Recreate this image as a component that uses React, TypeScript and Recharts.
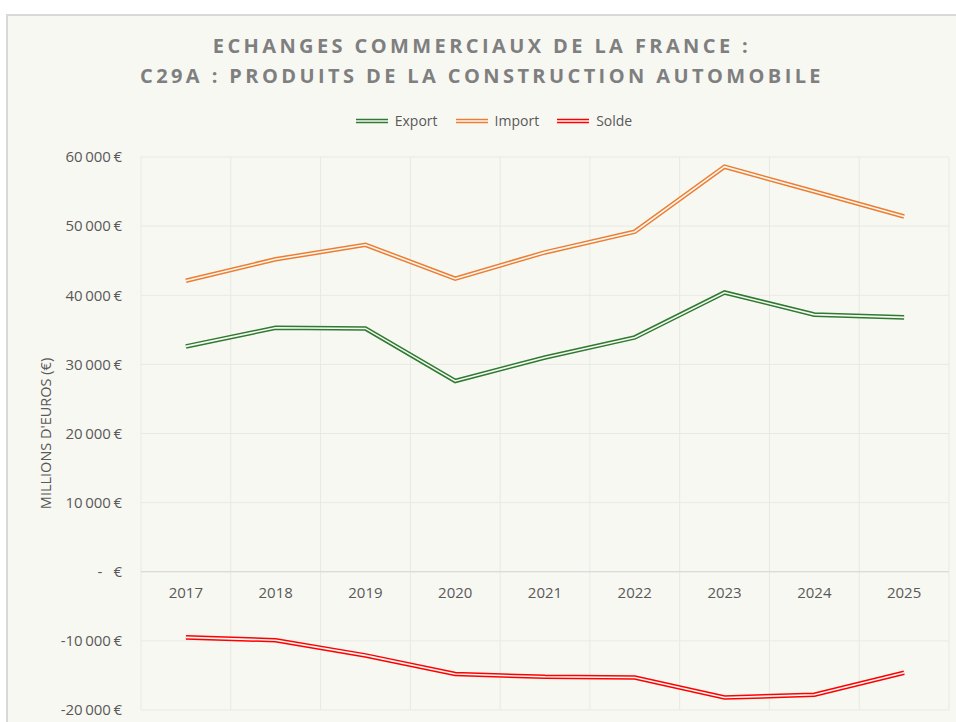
import { LineChart, Line, XAxis, YAxis, CartesianGrid, ReferenceLine, ReferenceDot, Legend } from 'recharts';

const years = ['2017', '2018', '2019', '2020', '2021', '2022', '2023', '2024', '2025'];
const exportValues = [32600, 35300, 35200, 27600, 31000, 33900, 40400, 37200, 36800];
const importValues = [42100, 45200, 47300, 42400, 46200, 49200, 58600, 55000, 51400];
const soldeValues = [-9500, -9900, -12100, -14800, -15200, -15300, -18200, -17800, -14600];
const yTicks = [-20000, -10000, 0, 10000, 20000, 30000, 40000, 50000, 60000];

const series = [
  { key: 'export', name: 'Export', color: '#2e7a31' },
  { key: 'import', name: 'Import', color: '#ed7d31' },
  { key: 'solde', name: 'Solde', color: '#ff0000' },
];

const data = years.map((year, i) => ({
  year,
  export: exportValues[i],
  import: importValues[i],
  solde: soldeValues[i],
}));

const BG = '#f8f8f3';
const TEXT = '#595959';
const FONT = '"Open Sans", sans-serif';

const fmt = (v: number) => {
  const s = Math.abs(v).toString().replace(/\B(?=(\d{3})+(?!\d))/g, '\u2009');
  return (v < 0 ? '-' : '') + s + '\u2009€';
};

const YTick = ({ x, y, payload }: any) => {
  const v = payload.value;
  if (v === 0) {
    return (
      <g fill={TEXT} fontSize={15} fontFamily={FONT}>
        <text x={x - 41} y={y} dy='0.355em' textAnchor='middle'>-</text>
        <text x={x - 19} y={y} dy='0.355em' textAnchor='end'>€</text>
      </g>
    );
  }
  return (
    <text x={x - 19} y={y} dy='0.355em' textAnchor='end' fill={TEXT} fontSize={15} fontFamily={FONT}>
      {fmt(v)}
    </text>
  );
};

const YLabel = ({ viewBox }: any) => {
  const cx = viewBox.x + 37;
  const cy = viewBox.y + viewBox.height / 2;
  return (
    <text
      x={cx}
      y={cy}
      transform={`rotate(-90 ${cx} ${cy})`}
      textAnchor='middle'
      dominantBaseline='central'
      fill={TEXT}
      fontSize={14.5}
      fontFamily={FONT}
    >MILLIONS D'EUROS (€)</text>
  );
};

const yearLabel = (year: string) => ({ viewBox }: any) => (
  <text
    x={viewBox.x + viewBox.width / 2}
    y={viewBox.y + 21}
    dy='0.355em'
    textAnchor='middle'
    fill={TEXT}
    fontSize={15}
    fontFamily={FONT}
  >{year}</text>
);

const renderLegend = () => (
  <div style={{ display: 'flex', justifyContent: 'center', gap: 18, fontFamily: FONT, fontSize: 14, color: TEXT }}>
    {series.map((s) => (
      <div key={s.key} style={{ display: 'flex', alignItems: 'center', gap: 7 }}>
        <svg width={32} height={6}>
          <line x1={0} x2={32} y1={1.5} y2={1.5} stroke={s.color} strokeWidth={1.5} />
          <line x1={0} x2={32} y1={4.5} y2={4.5} stroke={s.color} strokeWidth={1.5} />
        </svg>
        <span>{s.name}</span>
      </div>
    ))}
  </div>
);

export default function App() {
  const n = years.length;
  return (
    <div
      style={{
        position: 'absolute',
        left: 6,
        top: 14,
        width: 950,
        height: 708,
        boxSizing: 'border-box',
        borderTop: '2px solid #d9d9d9',
        borderLeft: '2px solid #d9d9d9',
        background: BG,
        overflow: 'hidden',
      }}
    >
      <div
        style={{
          position: 'absolute',
          top: 15,
          left: 0,
          width: 948,
          textAlign: 'center',
          fontFamily: FONT,
          fontWeight: 700,
          fontSize: 20,
          letterSpacing: 3.4,
          lineHeight: '30px',
          color: '#7f7f7f',
        }}
      >
        <div>ECHANGES COMMERCIAUX DE LA FRANCE :</div>
        <div>C29A : PRODUITS DE LA CONSTRUCTION AUTOMOBILE</div>
      </div>
      <LineChart width={948} height={706} data={data} margin={{ top: 141, right: 7, bottom: 12, left: 0 }}>
        <CartesianGrid
          stroke='#e9e9e4'
          verticalCoordinatesGenerator={({ offset }: any) =>
            Array.from({ length: n + 1 }, (_, i) => offset.left + (i * offset.width) / n)
          }
        />
        <XAxis dataKey='year' scale='band' hide />
        <YAxis
          width={133}
          domain={[-20000, 60000]}
          ticks={yTicks}
          axisLine={false}
          tickLine={false}
          tickSize={0}
          tickMargin={0}
          tick={<YTick />}
          label={<YLabel />}
          interval={0}
        />
        <ReferenceLine y={0} stroke='#d6d6d6' strokeWidth={1.2} />
        {years.map((year) => (
          <ReferenceDot
            key={year}
            x={year}
            y={0}
            r={0}
            fill='none'
            stroke='none'
            label={yearLabel(year)}
          />
        ))}
        <Legend
          content={renderLegend}
          layout='horizontal'
          verticalAlign='middle'
          align='center'
          wrapperStyle={{ top: 95, left: 12, width: 948 }}
        />
        {series.map((s) => (
          <Line
            key={s.key}
            dataKey={s.key}
            name={s.name}
            stroke={s.color}
            strokeWidth={4.6}
            dot={false}
            activeDot={false}
            isAnimationActive={false}
            legendType='none'
          />
        ))}
        {series.map((s) => (
          <Line
            key={s.key + '-inner'}
            dataKey={s.key}
            stroke={BG}
            strokeWidth={1.6}
            dot={false}
            activeDot={false}
            isAnimationActive={false}
            legendType='none'
          />
        ))}
      </LineChart>
    </div>
  );
}
